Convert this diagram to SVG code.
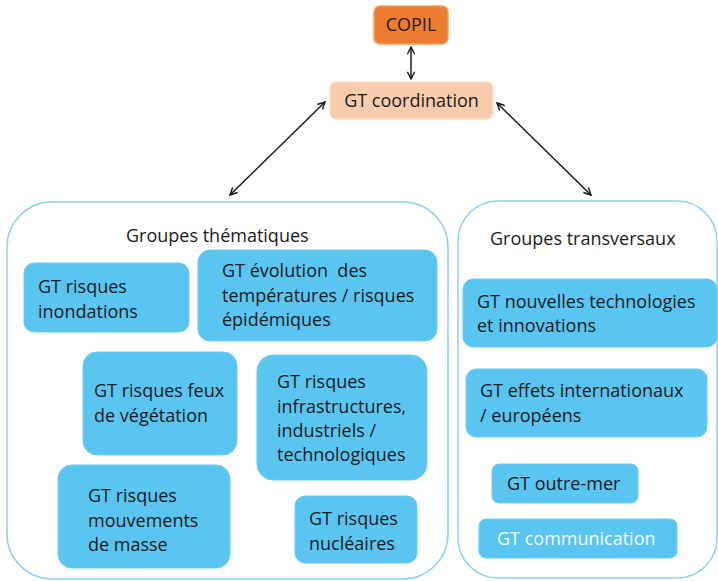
<svg xmlns="http://www.w3.org/2000/svg" width="718" height="581" viewBox="0 0 718 581">
  <style>
    text { font-family: "Open Sans", "Noto Sans", "Liberation Sans", sans-serif; font-size: 18px; fill: #1a1a1a; }
    .container { fill: none; stroke: #8fd0f0; stroke-width: 1.5; }
    .gt { fill: #5bc5f2; stroke: #6ccbf3; stroke-width: 1; }
    .link { stroke: #1a1a1a; stroke-width: 1.5; fill: none; marker-start: url(#head); marker-end: url(#head); }
    .light { fill: #f2fbff; }
  </style>
  <defs>
    <marker id="head" viewBox="0 0 10 10" refX="9" refY="5" markerWidth="9" markerHeight="9" orient="auto-start-reverse" markerUnits="userSpaceOnUse">
      <path d="M1,1 L9,5 L1,9" fill="none" stroke="#1a1a1a" stroke-width="1.6"/>
    </marker>
  </defs>

  <!-- connectors -->
  <g id="connectors">
    <line class="link" x1="411" y1="47" x2="411" y2="79"/>
    <line class="link" x1="325" y1="102" x2="230" y2="195"/>
    <line class="link" x1="497" y1="103" x2="591" y2="195"/>
  </g>

  <g id="copil">
    <rect x="374" y="6" width="74" height="38" rx="6" fill="#ed7d31" stroke="#f4a060" stroke-width="1.5"/>
    <text x="411" y="31" text-anchor="middle">COPIL</text>
  </g>

  <g id="gt-coordination">
    <rect x="330" y="82" width="163" height="37" rx="6" fill="#f8cbad" stroke="#fbe0c8" stroke-width="1.5"/>
    <text x="411.5" y="107" text-anchor="middle">GT coordination</text>
  </g>

  <g id="groupes-thematiques">
    <rect class="container" x="7" y="202" width="441" height="377" rx="45"/>
    <text x="126" y="242">Groupes thématiques</text>
  </g>

  <g id="groupes-transversaux">
    <rect class="container" x="458" y="201" width="259" height="377" rx="40"/>
    <text x="490" y="245">Groupes transversaux</text>
  </g>

  <g id="gt-inondations">
    <rect class="gt" x="24" y="263" width="165" height="69" rx="10"/>
    <text x="38" y="293">GT risques</text>
    <text x="38" y="318">inondations</text>
  </g>

  <g id="gt-temperatures">
    <rect class="gt" x="198" y="250" width="239" height="91" rx="12"/>
    <text x="222" y="277" xml:space="preserve">GT évolution  des</text>
    <text x="222" y="302">températures / risques</text>
    <text x="222" y="326">épidémiques</text>
  </g>

  <g id="gt-feux">
    <rect class="gt" x="83" y="352" width="154" height="103" rx="14"/>
    <text x="94" y="397">GT risques feux</text>
    <text x="94" y="422">de végétation</text>
  </g>

  <g id="gt-infrastructures">
    <rect class="gt" x="257" y="355" width="170" height="125" rx="16"/>
    <text x="277" y="388">GT risques</text>
    <text x="277" y="413">infrastructures,</text>
    <text x="277" y="437">industriels /</text>
    <text x="277" y="461">technologiques</text>
  </g>

  <g id="gt-mouvements">
    <rect class="gt" x="58" y="465" width="172" height="103" rx="14"/>
    <text x="88" y="502">GT risques</text>
    <text x="88" y="527">mouvements</text>
    <text x="88" y="551">de masse</text>
  </g>

  <g id="gt-nucleaires">
    <rect class="gt" x="295" y="496" width="122" height="67" rx="10"/>
    <text x="309" y="525">GT risques</text>
    <text x="309" y="550">nucléaires</text>
  </g>

  <g id="gt-technologies">
    <rect class="gt" x="463" y="279" width="254" height="68" rx="10"/>
    <text x="477" y="308">GT nouvelles technologies</text>
    <text x="477" y="332">et innovations</text>
  </g>

  <g id="gt-internationaux">
    <rect class="gt" x="466" y="369" width="241" height="68" rx="10"/>
    <text x="480" y="397">GT effets internationaux</text>
    <text x="480" y="422">/ européens</text>
  </g>

  <g id="gt-outre-mer">
    <rect class="gt" x="492" y="464" width="146" height="39" rx="7"/>
    <text x="507" y="490">GT outre-mer</text>
  </g>

  <g id="gt-communication">
    <rect class="gt" x="479" y="519" width="198" height="39" rx="7"/>
    <text class="light" x="497" y="545">GT communication</text>
  </g>
</svg>
